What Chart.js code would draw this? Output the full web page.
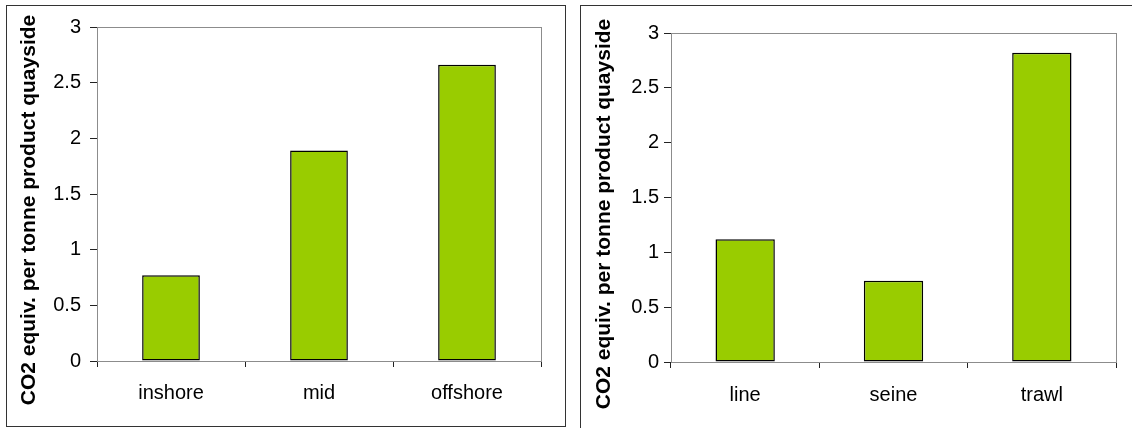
<!DOCTYPE html>
<html>
<head>
<meta charset="utf-8">
<script src="https://cdn.jsdelivr.net/npm/chart.js@4/dist/chart.umd.min.js"></script>
<style>
  html, body { margin: 0; padding: 0; background: #fff; width: 1132px; height: 428px; overflow: hidden; }
  .frame { position: absolute; border: 1px solid #333; box-sizing: border-box; }
  .cv { position: absolute; }
</style>
</head>
<body>
<div class="frame" style="left:6px; top:5px; width:560px; height:422px;"></div>
<div class="frame" style="left:580px; top:5px; width:600px; height:500px;"></div>
<div class="cv" style="left:7px; top:6px; width:557px; height:419px;"><canvas id="c1" width="557" height="419"></canvas></div>
<div class="cv" style="left:581px; top:6px; width:551px; height:422px;"><canvas id="c2" width="551" height="422"></canvas></div>
<script>
const yAxisTitle = 'CO2 equiv. per tonne product quayside';
const yTickLabels = ['0', '0.5', '1', '1.5', '2', '2.5', '3'];
const distanceCategories = ['inshore', 'mid', 'offshore'];
const distanceValues = [0.77, 1.89, 2.66];
const gearCategories = ['line', 'seine', 'trawl'];
const gearValues = [1.12, 0.74, 2.82];

const FONT = "'Liberation Sans', Arial, sans-serif";

const plotFrame = {
  id: 'plotFrame',
  beforeDatasetsDraw(chart) {
    const a = chart.chartArea, ctx = chart.ctx;
    ctx.save();
    ctx.strokeStyle = '#8c8c8c';
    ctx.lineWidth = 1;
    ctx.strokeRect(Math.round(a.left) + 0.5, Math.round(a.top) + 0.5, Math.round(a.right - a.left), Math.round(a.bottom - a.top));
    ctx.restore();
  }
};

const sideTitle = {
  id: 'sideTitle',
  afterDraw(chart, args, opts) {
    const ctx = chart.ctx;
    ctx.save();
    ctx.translate(opts.x, opts.y);
    ctx.rotate(-Math.PI / 2);
    ctx.font = 'bold 21px ' + FONT;
    ctx.fillStyle = '#000';
    ctx.textAlign = 'center';
    ctx.textBaseline = 'middle';
    ctx.fillText(opts.text, 0, 0);
    ctx.restore();
  }
};

function makeChart(id, cats, vals, cfg) {
  return new Chart(document.getElementById(id), {
    type: 'bar',
    data: {
      labels: cats,
      datasets: [{
        data: vals,
        backgroundColor: '#99cc00',
        borderColor: '#000',
        borderWidth: 1.5,
        borderSkipped: false,
        categoryPercentage: 1,
        barPercentage: cfg.barPct
      }]
    },
    options: {
      responsive: false,
      animation: false,
      events: [],
      layout: { padding: { left: 0, right: cfg.padRight, top: cfg.padTop, bottom: 0 } },
      plugins: {
        legend: { display: false },
        tooltip: { enabled: false },
        sideTitle: { text: yAxisTitle, x: cfg.titleX, y: cfg.titleY }
      },
      scales: {
        x: {
          grid: { display: true, drawOnChartArea: false, drawTicks: true, tickLength: 6, color: '#222', offset: true },
          border: { display: true, color: '#222', width: 1 },
          ticks: { color: '#000', font: { family: FONT, size: 20 }, padding: cfg.xPad, maxRotation: 0 },
          afterFit(s) { s.height = cfg.xHeight; }
        },
        y: {
          min: 0, max: 3,
          grid: { display: true, drawOnChartArea: false, drawTicks: true, tickLength: 7, color: '#222' },
          border: { display: true, color: '#222', width: 1 },
          ticks: {
            stepSize: 0.5, color: '#000', font: { family: FONT, size: 20 }, padding: cfg.yPad,
            callback: (v, i) => yTickLabels[i]
          },
          afterFit(s) { s.width = 90; }
        }
      }
    },
    plugins: [plotFrame, sideTitle]
  });
}

makeChart('c1', distanceCategories, distanceValues,
  { barPct: 0.39, padRight: 23, padTop: 18, xHeight: 64, xPad: 14, yPad: 9, titleX: 22, titleY: 204 });
makeChart('c2', gearCategories, gearValues,
  { barPct: 0.40, padRight: 16, padTop: 27, xHeight: 66, xPad: 15, yPad: 5, titleX: 23.5, titleY: 208 });
</script>
</body>
</html>
